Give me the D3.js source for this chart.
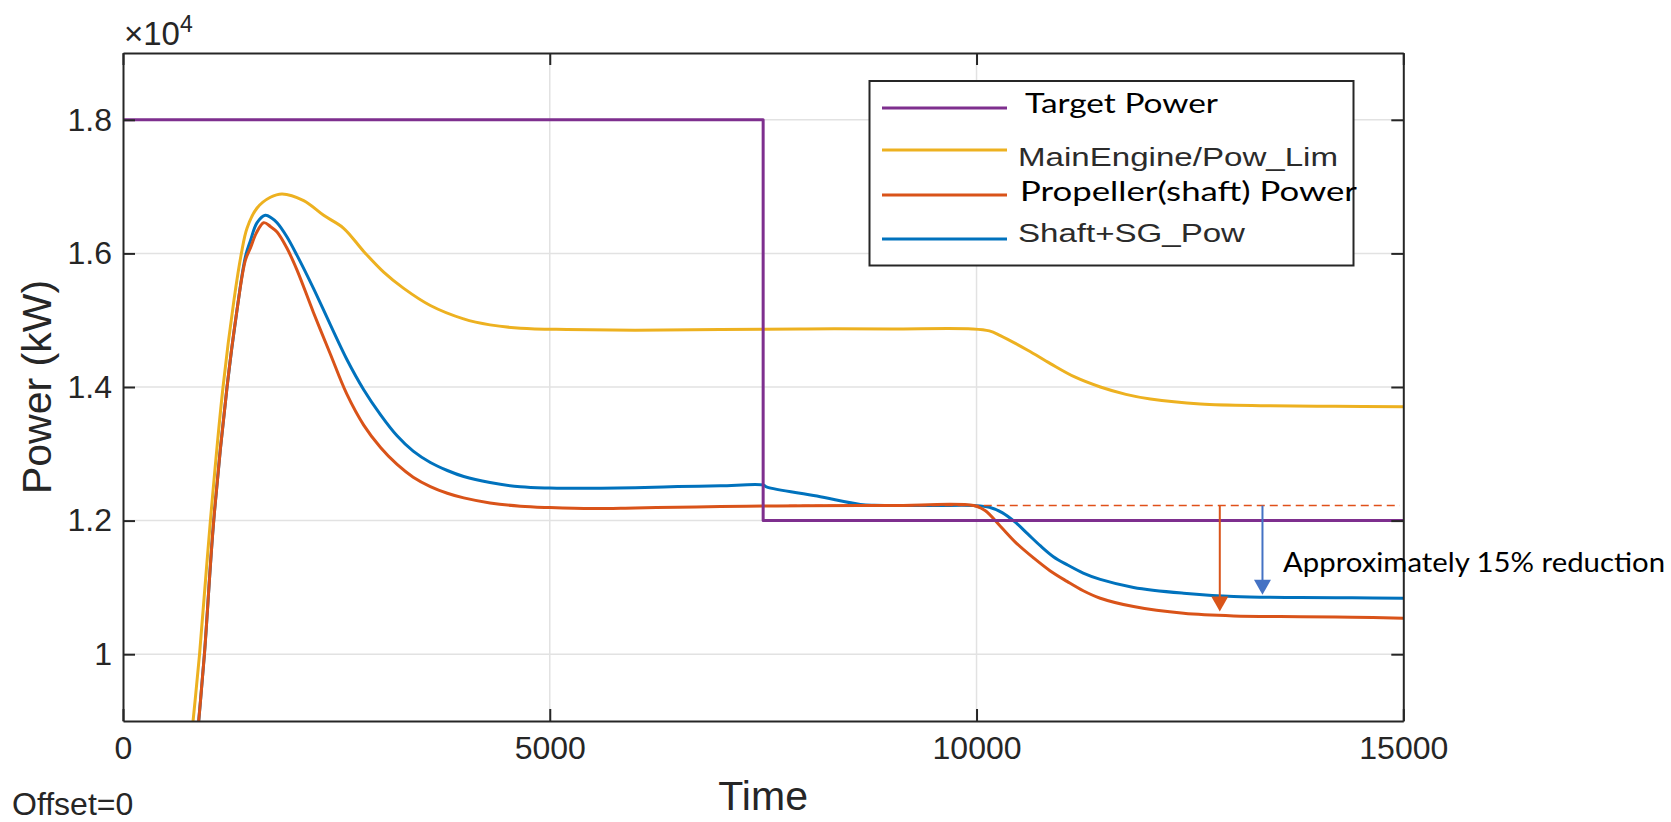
<!DOCTYPE html>
<html>
<head>
<meta charset="utf-8">
<script src="https://cdn.jsdelivr.net/npm/d3@7"></script>
<style>
  html, body { margin: 0; padding: 0; background: #fff; }
  svg { display: block; }
</style>
</head>
<body>
<svg id="chart" width="1671" height="822"></svg>
<script>
// ---- series data (time in s, power in kW) ----
const targetTime  = [0, 7500, 7500, 15000];
const targetPower = [18000, 18000, 12000, 12000];

const engineTime  = [740, 821, 897, 1024, 1172, 1300, 1387, 1454, 1571, 1727, 1864, 2117, 2351, 2582, 2820, 3054, 3285, 3601, 3990, 4300, 4657, 5200, 6000, 7000, 8000, 9000, 9950, 10150, 10279, 10600, 10865, 11150, 11451, 11750, 12037, 12623, 13403, 14200, 15000];
const enginePower = [7900, 9000, 10000, 12000, 14000, 15300, 16000, 16380, 16680, 16840, 16890, 16790, 16570, 16380, 16030, 15720, 15480, 15220, 15020, 14930, 14880, 14860, 14850, 14860, 14870, 14870, 14870, 14840, 14770, 14550, 14350, 14150, 14000, 13890, 13820, 13746, 13720, 13710, 13705];

const propTime  = [820, 887, 954, 1063, 1219, 1330, 1434, 1493, 1560, 1649, 1730, 1805, 1920, 2039, 2230, 2430, 2620, 2820, 3020, 3211, 3400, 3601, 3800, 3992, 4300, 4656, 5000, 5500, 6000, 6500, 7000, 7500, 8000, 9000, 9966, 10100, 10279, 10469, 10669, 10860, 11060, 11250, 11450, 11840, 12426, 13012, 13793, 14400, 15000];
const propPower = [8000, 9000, 10000, 12000, 14000, 15100, 15900, 16080, 16300, 16460, 16400, 16320, 16080, 15750, 15120, 14490, 13900, 13430, 13090, 12840, 12650, 12510, 12410, 12340, 12265, 12215, 12195, 12180, 12190, 12200, 12210, 12217, 12222, 12225, 12225, 12150, 11916, 11660, 11440, 11250, 11090, 10950, 10838, 10713, 10612, 10573, 10562, 10555, 10537];

const shaftTime  = [820, 887, 954, 1063, 1219, 1330, 1434, 1493, 1571, 1668, 1740, 1805, 1920, 2039, 2230, 2430, 2620, 2820, 3020, 3211, 3400, 3601, 3800, 3992, 4300, 4656, 5000, 5600, 6000, 6500, 7000, 7500, 7546, 8131, 8639, 8800, 9500, 9966, 10150, 10300, 10450, 10600, 10750, 10900, 11060, 11250, 11450, 11840, 12426, 13012, 13793, 14400, 15000];
const shaftPower = [8000, 9000, 10000, 12000, 14000, 15100, 15950, 16190, 16460, 16570, 16530, 16460, 16250, 15970, 15480, 14930, 14420, 13960, 13580, 13270, 13040, 12870, 12750, 12660, 12570, 12505, 12487, 12483, 12490, 12510, 12520, 12533, 12500, 12367, 12242, 12228, 12225, 12225, 12200, 12120, 11980, 11800, 11620, 11460, 11340, 11215, 11120, 11000, 10913, 10863, 10848, 10845, 10838];

// reduction annotation: reference level and arrow tips
const refLevel      = 12225;
const refLineTime   = [7800, 14960];
const arrowTime     = [12850, 13350];
const arrowTipPower = [10640, 10890];
const arrowColors   = ["#D9541A", "#4472C4"];

// axes
const xTicks = [0, 5000, 10000, 15000];
const yTicks = [10000, 12000, 14000, 16000, 18000];
const xDomain = [0, 15000];
const yDomain = [9000, 19000];

const seriesNames  = ["Target Power", "MainEngine/Pow_Lim", "Propeller(shaft) Power", "Shaft+SG_Pow"];
const seriesColors = ["#7E2F8E", "#EDB120", "#D95319", "#0072BD"];

// ---- layout ----
const svg = d3.select("#chart");
const L = 123, R = 1403.3, T = 53, B = 721;

const x = d3.scaleLinear().domain(xDomain).range([L, R]);
const y = d3.scaleLinear().domain(yDomain).range([B, T]);

const axisColor = "#262626";
const fontMain = "'Liberation Sans', Arial, Helvetica, sans-serif";
const fontNote = "Lato, 'Open Sans', sans-serif";

// grid
const grid = svg.append("g").attr("stroke", "#e2e2e2").attr("stroke-width", 1.5);
grid.selectAll("line.gx").data(xTicks.slice(1, -1)).join("line")
  .attr("x1", d => x(d)).attr("x2", d => x(d)).attr("y1", T).attr("y2", B);
grid.selectAll("line.gy").data(yTicks).join("line")
  .attr("x1", L).attr("x2", R).attr("y1", d => y(d)).attr("y2", d => y(d));

// clip for data
svg.append("clipPath").attr("id", "plotclip").append("rect")
  .attr("x", L).attr("y", T).attr("width", R - L).attr("height", B - T);

const plot = svg.append("g").attr("clip-path", "url(#plotclip)");

const smooth = d3.line().x(d => x(d[0])).y(d => y(d[1])).curve(d3.curveCatmullRom.alpha(0.5));
const straight = d3.line().x(d => x(d[0])).y(d => y(d[1]));
const zip = (a, b) => a.map((v, i) => [v, b[i]]);

// drawing order: shaft, propeller, engine, target on top
[
  [shaftTime, shaftPower, seriesColors[3], smooth],
  [propTime, propPower, seriesColors[2], smooth],
  [engineTime, enginePower, seriesColors[1], smooth],
  [targetTime, targetPower, seriesColors[0], straight]
].forEach(([t, p, c, gen]) => {
  plot.append("path")
    .attr("d", gen(zip(t, p)))
    .attr("fill", "none")
    .attr("stroke", c)
    .attr("stroke-width", 3)
    .attr("stroke-linejoin", "round");
});

// reduction annotation
svg.append("line")
  .attr("x1", x(refLineTime[0])).attr("x2", x(refLineTime[1]))
  .attr("y1", y(refLevel)).attr("y2", y(refLevel))
  .attr("stroke", "#E0501A").attr("stroke-width", 1.6)
  .attr("stroke-dasharray", "8,5");

arrowTime.forEach((t, i) => {
  const ax = x(t), top = y(refLevel), tip = y(arrowTipPower[i]);
  const headH = 15, headW = 8.5;
  svg.append("line")
    .attr("x1", ax).attr("x2", ax).attr("y1", top).attr("y2", tip - headH + 1)
    .attr("stroke", arrowColors[i]).attr("stroke-width", 2);
  svg.append("path")
    .attr("d", `M${ax - headW},${tip - headH}L${ax + headW},${tip - headH}L${ax},${tip}Z`)
    .attr("fill", arrowColors[i]);
});

// axes (inward ticks, box on)
const tickLen = 12;
const styleAxis = g => {
  g.select(".domain").attr("stroke", axisColor).attr("stroke-width", 2);
  g.selectAll(".tick line").attr("stroke", axisColor).attr("stroke-width", 2);
  g.selectAll(".tick text").attr("fill", axisColor)
    .attr("font-family", fontMain).attr("font-size", 32);
};

svg.append("g").attr("transform", `translate(0,${B})`)
  .call(d3.axisBottom(x).tickValues(xTicks).tickSizeInner(-tickLen).tickSizeOuter(0)
    .tickPadding(15).tickFormat(d3.format("d")))
  .call(styleAxis);

svg.append("g").attr("transform", `translate(0,${T})`)
  .call(d3.axisTop(x).tickValues(xTicks).tickSizeInner(-tickLen).tickSizeOuter(0).tickFormat(""))
  .call(styleAxis);

svg.append("g").attr("transform", `translate(${L},0)`)
  .call(d3.axisLeft(y).tickValues(yTicks).tickSizeInner(-tickLen).tickSizeOuter(0)
    .tickPadding(11).tickFormat(d => d3.format("~g")(d / 1e4)))
  .call(styleAxis);

svg.append("g").attr("transform", `translate(${R},0)`)
  .call(d3.axisRight(y).tickValues(yTicks).tickSizeInner(-tickLen).tickSizeOuter(0).tickFormat(""))
  .call(styleAxis);

// exponent label
const expo = svg.append("text")
  .attr("x", 124).attr("y", 45)
  .attr("font-family", fontMain).attr("font-size", 33).attr("fill", axisColor);
expo.append("tspan").text("×10");
expo.append("tspan").attr("font-size", 23).attr("dy", -13).text("4");

// axis titles
svg.append("text")
  .attr("x", (L + R) / 2).attr("y", 810)
  .attr("text-anchor", "middle")
  .attr("font-family", fontMain).attr("font-size", 41).attr("fill", axisColor)
  .text("Time");

svg.append("text")
  .attr("transform", `translate(51,${(T + B) / 2}) rotate(-90)`)
  .attr("text-anchor", "middle")
  .attr("font-family", fontMain).attr("font-size", 41).attr("fill", axisColor)
  .text("Power (kW)");

svg.append("text")
  .attr("x", 12).attr("y", 815)
  .attr("font-family", fontMain).attr("font-size", 32).attr("fill", axisColor)
  .text("Offset=0");

// legend
const legend = svg.append("g");
legend.append("rect")
  .attr("x", 869.5).attr("y", 81).attr("width", 484).attr("height", 184.5)
  .attr("fill", "#fff").attr("stroke", axisColor).attr("stroke-width", 2);

const legendLineY = [108, 150, 195, 239];
const legendTextX = [1025, 1018, 1020, 1018];
const legendTextY = [113, 166, 201, 242];
const legendTextW = [193, 320, 337, 227];
const legendFont  = [fontNote, fontMain, fontNote, fontMain];
const legendFill  = ["#000", "#2b2b2b", "#000", "#2b2b2b"];

seriesNames.forEach((name, i) => {
  legend.append("line")
    .attr("x1", 882).attr("x2", 1007)
    .attr("y1", legendLineY[i]).attr("y2", legendLineY[i])
    .attr("stroke", seriesColors[i]).attr("stroke-width", 3);
  legend.append("text")
    .attr("x", legendTextX[i]).attr("y", legendTextY[i])
    .attr("font-family", legendFont[i]).attr("font-size", 26)
    .attr("fill", legendFill[i])
    .attr("textLength", legendTextW[i]).attr("lengthAdjust", "spacingAndGlyphs")
    .text(name);
});

// annotation text
svg.append("text")
  .attr("x", 1283).attr("y", 572)
  .attr("font-family", fontNote).attr("font-size", 27).attr("fill", "#000")
  .attr("textLength", 382).attr("lengthAdjust", "spacingAndGlyphs")
  .text("Approximately 15% reduction");
</script>
</body>
</html>
